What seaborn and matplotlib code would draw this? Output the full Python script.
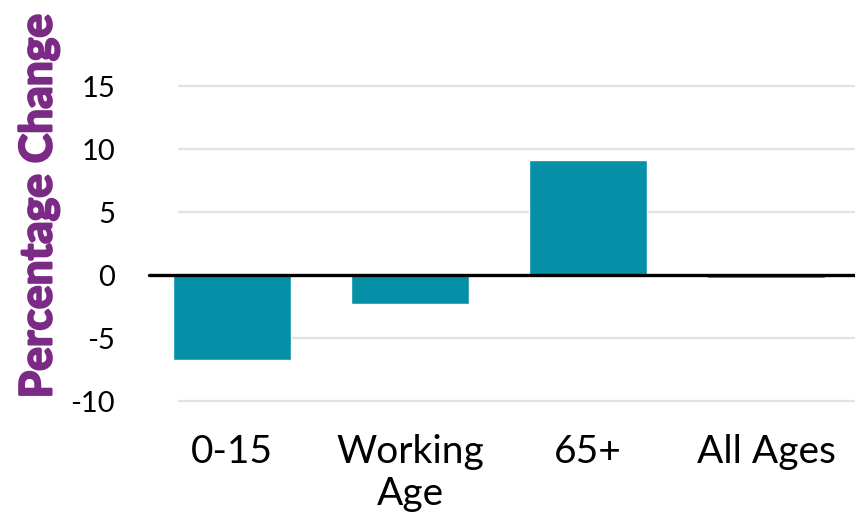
import matplotlib
matplotlib.use("Agg")
import matplotlib.pyplot as plt
import matplotlib.patheffects as pe
import seaborn as sns
import pandas as pd

categories = ["0-15", "Working\nAge", "65+", "All Ages"]
pct_change = [-6.7, -2.3, 9.1, -0.25]
y_ticks = [-10, -5, 0, 5, 10, 15]

sns.set_theme(style="white")
plt.rcParams["font.family"] = ["Lato", "DejaVu Sans"]

df = pd.DataFrame({"group": categories, "change": pct_change})

fig = plt.figure(figsize=(8.61, 5.24), dpi=100)
ax = fig.add_axes([0.166, 0.198, 0.827, 0.758])

for t in y_ticks:
    if t != 0:
        ax.axhline(t, xmin=0.05, xmax=1.0, color="#e2e2e2", lw=1.6, zorder=0)

sns.barplot(data=df, x="group", y="change", color="#0590a8", width=0.66,
            saturation=1, ax=ax, zorder=2)

ax.axhline(0, xmin=0.008, color="black", lw=2.4, zorder=3)

ax.set_ylim(-11.5, 20)
ax.set_yticks(y_ticks)
ax.set_yticklabels([str(t) for t in y_ticks], fontsize=21, color="black")
ax.tick_params(axis="x", labelsize=28, colors="black", pad=10)
ax.tick_params(axis="y", pad=20, length=0)
ax.tick_params(axis="x", length=0)
ax.set_xlabel("")
ylab = ax.set_ylabel("Percentage Change", fontsize=32, fontweight="bold",
                     color="#7b2a85")
ylab.set_path_effects([pe.withStroke(linewidth=1.6, foreground="#7b2a85")])
ax.yaxis.set_label_coords(-0.118, 0.54)
for s in ax.spines.values():
    s.set_visible(False)

fig.savefig("out.png", dpi=100, facecolor="white")
